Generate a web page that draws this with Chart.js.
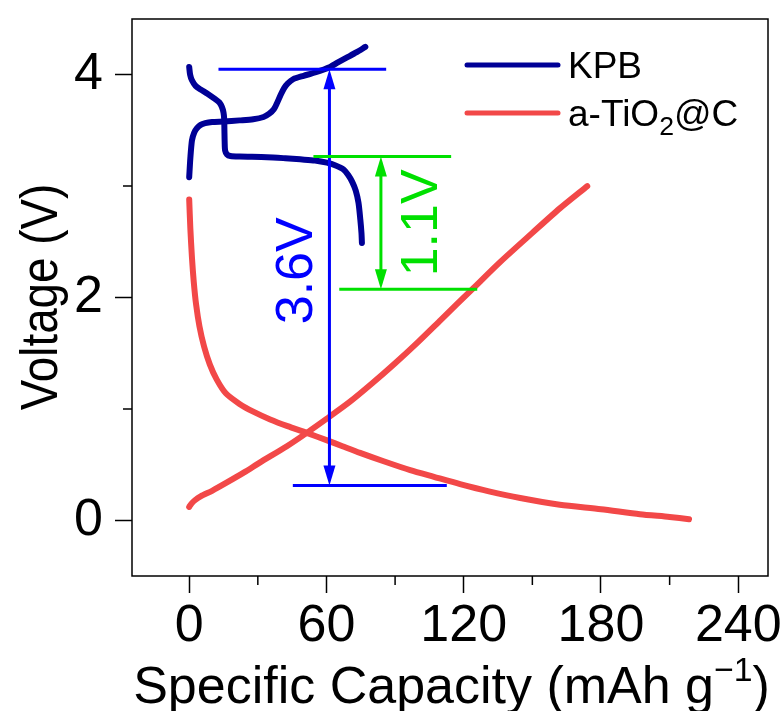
<!DOCTYPE html>
<html><head><meta charset="utf-8">
<script src="https://cdn.jsdelivr.net/npm/chart.js@4.4.0/dist/chart.umd.min.js"></script>
<style>html,body{margin:0;padding:0;background:#fff;}#wrap{width:784px;height:711px;position:relative;}</style>
</head><body><div id="wrap"><canvas id="c" width="784" height="711" style="width:784px;height:711px;display:block"></canvas></div>
<script>
// ---- data ----
const kpbChargeX = [0,0.5,1.2,2.2,3.4,5,7,10,15,22,28,32.5,35,37,38.5,40,41.5,43,45.5,50,55,61.6,65,69,73,77];
const kpbChargeV = [3.08,3.25,3.41,3.48,3.52,3.55,3.565,3.575,3.58,3.59,3.60,3.62,3.65,3.69,3.75,3.82,3.88,3.92,3.96,3.99,4.02,4.07,4.11,4.155,4.2,4.25];
const kpbDischargeX = [0,0.4,1.2,2.8,4.8,8,11.4,13.2,14.3,15,15.3,15.4,15.5,15.7,16.5,18,22,34,42,48.5,55,60.2,64,67.4,69.5,71.2,72.8,74,74.8,75.3,75.5];
const kpbDischargeV = [4.07,4.0,3.95,3.9,3.87,3.83,3.78,3.75,3.71,3.66,3.6,3.5,3.4,3.32,3.285,3.27,3.265,3.26,3.25,3.24,3.23,3.21,3.185,3.15,3.1,3.04,2.96,2.85,2.7,2.58,2.49];
const tioDischargeX = [0,0.5,1.2,2,3,4.5,6.5,9,12,16,22,28,35.4,43,51.4,60,67,74.7,85,96.6,107,118.4,131,144.7,162,180,197,210,218.5];
const tioDischargeV = [2.88,2.62,2.36,2.14,1.94,1.74,1.56,1.40,1.265,1.14,1.045,0.975,0.905,0.845,0.785,0.72,0.665,0.605,0.53,0.45,0.39,0.325,0.26,0.20,0.14,0.10,0.055,0.03,0.01];
const tioChargeX = [0,1,2.5,5,10,16.5,24,31,42.7,51.4,60,70,80,90,100,110,124,136,150,162,174];
const tioChargeV = [0.12,0.15,0.18,0.215,0.265,0.34,0.43,0.52,0.665,0.785,0.91,1.06,1.23,1.41,1.6,1.8,2.08,2.32,2.58,2.80,3.0];

const xMajorTicks = [0,60,120,180,240];
const xMinorTicks = [30,90,150,210];
const yMajorTicks = [0,2,4];
const yMinorTicks = [1,3];

// annotation values (data units)
const blueTopLine = {x1:12.8, x2:86.1, v:4.05};
const blueBottomLine = {x1:45.3, x2:112.6, v:0.312};
const blueArrow = {x:61.3, v1:4.05, v2:0.312};
const greenTopLine = {x1:54.3, x2:114.5, v:3.266};
const greenBottomLine = {x1:65.6, x2:125.9, v:2.074};
const greenArrow = {x:83.8, v1:3.266, v2:2.074};
const blueLabel = {x:45.5, v:2.24, text:'3.6V'};
const greenLabel = {x:100, v:2.67, text:'1.1V'};

const FONT = '"Liberation Sans", Arial, sans-serif';
const KPB_COLOR = '#000096';
const TIO_COLOR = '#f24848';
const BLUE = '#0000ff';
const GREEN = '#00e000';

function pts(xs, vs){ return xs.map((x,i)=>({x:x, y:vs[i]})); }

const W = 784, H = 711;
const PLOT = {left:132, top:19, right:768, bottom:576};

const decorPlugin = {
  id:'decor',
  afterDatasetsDraw(chart){
    const ctx = chart.ctx, xs = chart.scales.x, ys = chart.scales.y;
    const X = v=>xs.getPixelForValue(v), Y = v=>ys.getPixelForValue(v);
    ctx.save();
    function hline(l,col){
      ctx.strokeStyle=col; ctx.lineWidth=3; ctx.beginPath();
      ctx.moveTo(X(l.x1),Y(l.v)); ctx.lineTo(X(l.x2),Y(l.v)); ctx.stroke();
    }
    function head(x,y,dir,col){
      ctx.fillStyle=col; ctx.beginPath();
      ctx.moveTo(x,y); ctx.lineTo(x-6,y-dir*20); ctx.lineTo(x+6,y-dir*20); ctx.closePath(); ctx.fill();
    }
    function varrow(a,col){
      const x=X(a.x), y1=Y(a.v1), y2=Y(a.v2);
      ctx.strokeStyle=col; ctx.lineWidth=3; ctx.beginPath();
      ctx.moveTo(x,y1+10); ctx.lineTo(x,y2-10); ctx.stroke();
      head(x,y1,-1,col); head(x,y2,1,col);
    }
    function vtext(l,col,size){
      ctx.save();
      ctx.translate(X(l.x),Y(l.v)); ctx.rotate(-Math.PI/2);
      ctx.font = size+'px '+FONT; ctx.fillStyle=col; ctx.textAlign='center'; ctx.textBaseline='alphabetic';
      ctx.fillText(l.text,0,size*0.716/2);
      ctx.restore();
    }
    hline(blueTopLine,BLUE); hline(blueBottomLine,BLUE); varrow(blueArrow,BLUE);
    hline(greenTopLine,GREEN); hline(greenBottomLine,GREEN); varrow(greenArrow,GREEN);
    vtext(blueLabel,BLUE,52); vtext(greenLabel,GREEN,52);
    ctx.restore();
  },
  afterDraw(chart){
    const ctx = chart.ctx, xs = chart.scales.x, ys = chart.scales.y, ca = chart.chartArea;
    ctx.save();
    ctx.strokeStyle='#000'; ctx.lineWidth=1.5;
    ctx.strokeRect(ca.left, ca.top, ca.right-ca.left, ca.bottom-ca.top);
    ctx.beginPath();
    xMinorTicks.forEach(v=>{const p=xs.getPixelForValue(v); ctx.moveTo(p,ca.bottom); ctx.lineTo(p,ca.bottom+9);});
    yMinorTicks.forEach(v=>{const p=ys.getPixelForValue(v); ctx.moveTo(ca.left,p); ctx.lineTo(ca.left-9,p);});
    ctx.stroke();
    const legend = [{y:65,col:KPB_COLOR},{y:113,col:TIO_COLOR}];
    ctx.lineCap='round'; ctx.lineWidth=5;
    legend.forEach(l=>{ctx.strokeStyle=l.col; ctx.beginPath(); ctx.moveTo(467,l.y); ctx.lineTo(558,l.y); ctx.stroke();});
    ctx.fillStyle='#000'; ctx.textBaseline='alphabetic'; ctx.textAlign='left';
    const LF = 37, capOff = LF*0.716/2;
    ctx.font = LF+'px '+FONT;
    ctx.fillText('KPB', 568, 65+capOff);
    let x = 568, by = 113+capOff;
    ctx.fillText('a-TiO', x, by); x += ctx.measureText('a-TiO').width;
    ctx.font = (LF*0.72)+'px '+FONT; ctx.fillText('2', x, by+9); x += ctx.measureText('2').width;
    ctx.font = LF+'px '+FONT; ctx.fillText('@C', x, by);
    const TF = 52;
    const main1 = 'Specific Capacity (mAh g', sup = '\u22121', close = ')';
    ctx.font = TF+'px '+FONT; const w1 = ctx.measureText(main1).width, w3 = ctx.measureText(close).width;
    ctx.font = (TF*0.65)+'px '+FONT; const w2 = ctx.measureText(sup).width;
    let tx = 451.5 - (w1+w2+w3)/2; const tb = 703;
    ctx.font = TF+'px '+FONT; ctx.fillText(main1, tx, tb); tx += w1;
    ctx.font = (TF*0.65)+'px '+FONT; ctx.fillText(sup, tx, tb-22); tx += w2;
    ctx.font = TF+'px '+FONT; ctx.fillText(close, tx, tb);
    ctx.save(); ctx.translate(38, 297); ctx.rotate(-Math.PI/2); ctx.scale(0.88,1);
    ctx.font = '52px '+FONT; ctx.textAlign='center'; ctx.fillText('Voltage (V)', 0, 52*0.716/2);
    ctx.restore();
    ctx.restore();
  }
};

const canvas = document.getElementById('c');
new Chart(canvas, {
  type:'scatter',
  data:{datasets:[
    {label:'a-TiO2@C charge', data:pts(tioChargeX,tioChargeV), borderColor:TIO_COLOR},
    {label:'a-TiO2@C discharge', data:pts(tioDischargeX,tioDischargeV), borderColor:TIO_COLOR},
    {label:'KPB charge', data:pts(kpbChargeX,kpbChargeV), borderColor:KPB_COLOR},
    {label:'KPB discharge', data:pts(kpbDischargeX,kpbDischargeV), borderColor:KPB_COLOR}
  ].map(d=>Object.assign(d,{showLine:true,pointRadius:0,borderWidth:6,tension:0.25,borderCapStyle:'round',borderJoinStyle:'round',fill:false}))},
  plugins:[decorPlugin],
  options:{
    responsive:false, maintainAspectRatio:false, animation:false, devicePixelRatio:1,
    layout:{padding:{top:PLOT.top, right:W-PLOT.right, left:0, bottom:0}, autoPadding:false},
    plugins:{legend:{display:false}, tooltip:{enabled:false}},
    scales:{
      x:{type:'linear', min:-25, max:253,
        afterBuildTicks(s){ s.ticks = xMajorTicks.map(v=>({value:v})); },
        afterFit(s){ s.height = H-PLOT.bottom; s.paddingLeft=0; s.paddingRight=0; s.paddingTop=0; s.paddingBottom=0; },
        grid:{drawOnChartArea:false, drawTicks:true, tickLength:17, tickWidth:1.5, tickColor:'#000'},
        border:{display:false},
        ticks:{font:{family:FONT,size:52}, color:'#000', padding:2, maxRotation:0, autoSkip:false}
      },
      y:{type:'linear', min:-0.5, max:4.5,
        afterBuildTicks(s){ s.ticks = yMajorTicks.map(v=>({value:v})); },
        afterFit(s){ s.width = PLOT.left; s.paddingLeft=0; s.paddingRight=0; s.paddingTop=0; s.paddingBottom=0; },
        grid:{drawOnChartArea:false, drawTicks:true, tickLength:17, tickWidth:1.5, tickColor:'#000'},
        border:{display:false},
        ticks:{font:{family:FONT,size:52}, color:'#000', padding:12, autoSkip:false}
      }
    }
  }
});
</script>
</body></html>
